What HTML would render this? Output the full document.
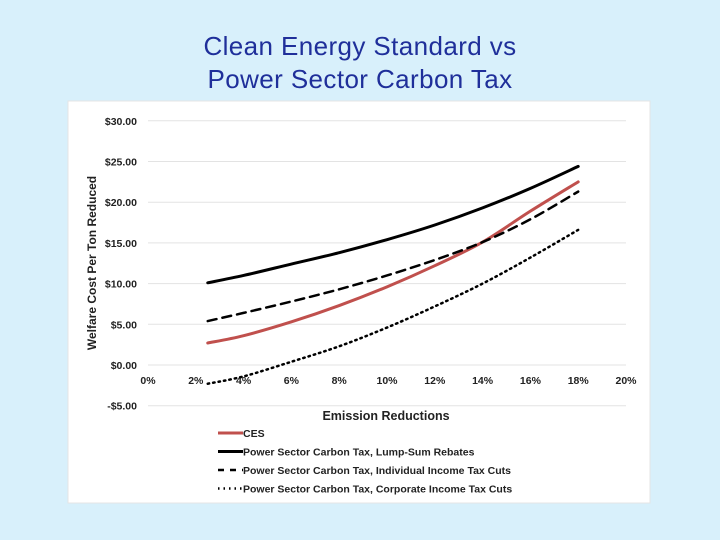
<!DOCTYPE html>
<html><head><meta charset="utf-8"><style>
body{margin:0;width:720px;height:540px;background:#d8f0fb;font-family:"Liberation Sans",sans-serif;overflow:hidden}
#title{position:absolute;left:0;width:720px;top:30px;text-align:center;font-size:26px;letter-spacing:0.4px;line-height:33px;color:#1f2f9a}
svg{position:absolute;left:0;top:0}
</style></head><body>
<div id="title">Clean Energy Standard vs<br>Power Sector Carbon Tax</div>
<svg id="chart" width="720" height="540">
<rect x="68" y="101" width="582" height="402" fill="#fff" stroke="#e4e4e4"/>
<g id="grid"></g><g id="series"></g><g id="legend"></g>
<text x="96" y="263" transform="rotate(-90 96 263)" text-anchor="middle" font-size="12" font-weight="bold" fill="#222">Welfare Cost Per Ton Reduced</text>
<text x="386" y="420" text-anchor="middle" font-size="12.5" font-weight="bold" fill="#222">Emission Reductions</text>
</svg>
<script>
const yTicks=[-5,0,5,10,15,20,25,30];
const xTicks=[0,2,4,6,8,10,12,14,16,18,20];
const xVals=[2.5,4,6,8,10,12,14,16,18];
const lumpSum=[10.1,11.0,12.4,13.8,15.4,17.2,19.3,21.7,24.4];
const incomeTax=[5.4,6.4,7.8,9.3,11.0,12.9,15.1,17.9,21.3];
const ces=[2.7,3.6,5.3,7.3,9.6,12.2,15.1,18.9,22.5];
const corpTax=[-2.3,-1.4,0.4,2.3,4.6,7.2,10.0,13.2,16.6];
const seriesNames=["CES","Power Sector Carbon Tax, Lump-Sum Rebates","Power Sector Carbon Tax, Individual Income Tax Cuts","Power Sector Carbon Tax, Corporate Income Tax Cuts"];
const NS="http://www.w3.org/2000/svg";
const X=v=>148+v*23.9, Y=v=>365-v*8.14;
function mk(t,a,p){const e=document.createElementNS(NS,t);for(const k in a)e.setAttribute(k,a[k]);p.appendChild(e);return e;}
const grid=document.getElementById('grid');
yTicks.forEach(v=>{
 const l=mk('line',{x1:148,x2:626,y1:Y(v),y2:Y(v),stroke:'#e3e3e3','stroke-width':1},grid);
 
 
 const t=mk('text',{x:137,y:Y(v)+4,'text-anchor':'end','font-size':10.5,'font-weight':'bold',fill:'#222'},grid);
 t.textContent=(v<0?'-$':'$')+Math.abs(v).toFixed(2);
 
 
});
xTicks.forEach(v=>{
 const t=mk('text',{x:X(v),y:384,'text-anchor':'middle','font-size':10.5,'font-weight':'bold',fill:'#222'},grid);
 t.textContent=v+'%';
 
 
});
function path(vals){
 const p=xVals.map((x,i)=>[X(x),Y(vals[i])]);
 let d='M'+p[0][0]+','+p[0][1];
 for(let i=0;i<p.length-1;i++){
  const p0=p[i-1]||p[i],p1=p[i],p2=p[i+1],p3=p[i+2]||p2;
  const c1=[p1[0]+(p2[0]-p0[0])/6,p1[1]+(p2[1]-p0[1])/6],c2=[p2[0]-(p3[0]-p1[0])/6,p2[1]-(p3[1]-p1[1])/6];
  d+=' C'+c1+' '+c2+' '+p2;
 }
 return d;
}
const styles=[{c:'#c0504d',w:3,da:''},{c:'#000',w:3,da:''},{c:'#000',w:2.5,da:'9,6'},{c:'#000',w:2.5,da:'1.5,4'}];
const data=[ces,lumpSum,incomeTax,corpTax];
const sg=document.getElementById('series'),lg=document.getElementById('legend');
const names=['ces-line','lump-sum-line','income-tax-line','corporate-tax-line'];
data.forEach((vals,i)=>{
 const s=styles[i];
 const p=mk('path',{d:path(vals),fill:'none',stroke:s.c,'stroke-width':s.w,'stroke-dasharray':s.da,'stroke-linecap':'round'},sg);
 
 
 const ly=433+i*18.5;
 const g=mk('g',{},lg);
 
 
 mk('line',{x1:218,x2:243,y1:ly,y2:ly,stroke:s.c,'stroke-width':s.w,'stroke-dasharray':i==2?'6,6':s.da},g);
 const t=mk('text',{x:243,y:ly+4,'font-size':10.5,'font-weight':'bold',fill:'#222'},g);
 t.textContent=seriesNames[i];
});
</script>
</body></html>
